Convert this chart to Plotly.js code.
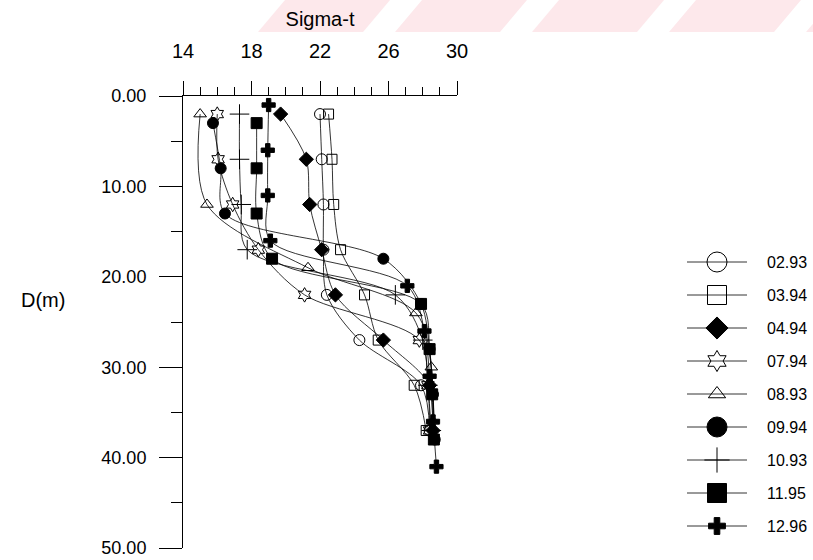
<!DOCTYPE html>
<html>
<head>
<meta charset="utf-8">
<script src="https://cdn.plot.ly/plotly-3.0.1.min.js"></script>
<style>html,body{margin:0;padding:0;background:#fff;}#chart{width:813px;height:560px;}</style>
</head>
<body>
<div id="chart"></div>
<script>
// ---- data ----
const seriesNames = ['02.93','03.94','04.94','07.94','08.93','09.94','10.93','11.95','12.96'];

const depth_0293 = [2, 7, 12, 17, 22, 27, 32, 37];
const sigma_0293 = [22.0, 22.1, 22.2, 22.2, 22.4, 24.3, 27.9, 28.4];

const depth_0394 = [2, 7, 12, 17, 22, 27, 32, 37];
const sigma_0394 = [22.5, 22.7, 22.8, 23.2, 24.6, 25.4, 27.5, 28.2];

const depth_0494 = [2, 7, 12, 17, 22, 27, 32, 37];
const sigma_0494 = [19.7, 21.2, 21.4, 22.1, 22.9, 25.7, 28.4, 28.6];

const depth_0794 = [2, 7, 12, 17, 22, 27, 32, 37];
const sigma_0794 = [16.0, 16.05, 16.9, 18.4, 21.1, 27.8, 28.3, 28.4];

const depth_0893 = [2, 12, 19, 24, 30, 36];
const sigma_0893 = [15.0, 15.4, 21.3, 27.6, 28.5, 28.6];

const depth_0994 = [3, 8, 13, 18, 23, 28, 33, 38];
const sigma_0994 = [15.75, 16.2, 16.45, 25.7, 27.9, 28.4, 28.6, 28.7];

const depth_1093 = [2, 7, 12, 17, 22, 27, 32, 37];
const sigma_1093 = [17.3, 17.3, 17.4, 17.75, 26.4, 28.0, 28.3, 28.5];

const depth_1195 = [3, 8, 13, 18, 23, 28, 33, 38];
const sigma_1195 = [18.3, 18.3, 18.3, 19.2, 27.9, 28.4, 28.55, 28.65];

const depth_1296 = [1, 6, 11, 16, 21, 26, 31, 36, 41];
const sigma_1296 = [19.0, 18.95, 18.95, 19.1, 27.1, 28.1, 28.4, 28.6, 28.8];

const xTickVals = [14, 18, 22, 26, 30];
const yTickVals = [0, 10, 20, 30, 40, 50];

// ---- styling ----
const depths = [depth_0293, depth_0394, depth_0494, depth_0794, depth_0893, depth_0994, depth_1093, depth_1195, depth_1296];
const sigmas = [sigma_0293, sigma_0394, sigma_0494, sigma_0794, sigma_0893, sigma_0994, sigma_1093, sigma_1195, sigma_1296];
const symbols = ['circle-open','square-open','diamond','hexagram-open','triangle-up-open','circle','cross-thin-open','square','cross'];
const plotSizes = [11, 10, 11, 11, 11, 11, 14, 11, 11];
const legSizes  = [20, 19, 17, 16, 15, 20, 18, 19, 14];

const FONT = 'Liberation Sans, Arial, sans-serif';
const traces = [];
for (let i = 0; i < seriesNames.length; i++) {
  traces.push({
    type: 'scatter', mode: 'lines+markers', name: seriesNames[i],
    x: sigmas[i], y: depths[i], xaxis: 'x', yaxis: 'y',
    line: {color: '#000', width: 0.8, shape: 'spline', smoothing: 0.9},
    marker: {symbol: symbols[i], size: plotSizes[i], color: '#000', line: {color: '#000', width: 1}},
    showlegend: false, cliponaxis: false
  });
}
// legend samples drawn on a hidden helper axis
const legendAnnotations = [];
for (let i = 0; i < seriesNames.length; i++) {
  traces.push({
    type: 'scatter', mode: 'lines+markers', xaxis: 'x2', yaxis: 'y2',
    x: [0, 30, 60], y: [-i, -i, -i],
    line: {color: '#000', width: 0.8},
    marker: {symbol: symbols[i], size: legSizes[i], color: '#000', opacity: [0, 1, 0], line: {color: '#000', width: 1}},
    showlegend: false, hoverinfo: 'skip', cliponaxis: false
  });
  legendAnnotations.push({
    xref: 'x2', yref: 'y2', x: 78, y: -i, text: seriesNames[i], showarrow: false,
    xanchor: 'left', yanchor: 'middle', font: {family: FONT, size: 16, color: '#000'}
  });
}

// pixel -> paper helpers (paper spans x 183..813, y 96..548)
const px = x => (x - 183) / 630;
const py = y => (548 - y) / 452;
const shapes = [];
for (let k = 0; k < 5; k++) {
  const b0 = 258 + 137 * k, b1 = b0 + 105, t0 = b0 + 27, t1 = b1 + 27;
  shapes.push({
    type: 'path', xref: 'paper', yref: 'paper', layer: 'below',
    path: `M${px(b0)},${py(32)} L${px(b1)},${py(32)} L${px(t1)},${py(0)} L${px(t0)},${py(0)} Z`,
    fillcolor: '#fde8eb', line: {width: 0}
  });
}

const layout = {
  width: 813, height: 560,
  margin: {l: 183, r: 0, t: 96, b: 12},
  paper_bgcolor: '#fff', plot_bgcolor: 'rgba(0,0,0,0)',
  font: {family: FONT, color: '#000'},
  showlegend: false,
  xaxis: {
    domain: [0, 274 / 630], range: [14, 30], side: 'top', anchor: 'y',
    tickvals: xTickVals, ticks: 'outside', ticklen: 14, tickwidth: 1, tickcolor: '#000',
    minor: {dtick: 1, tick0: 14, ticks: 'outside', ticklen: 8, tickwidth: 1, tickcolor: '#000'},
    showline: true, linecolor: '#000', linewidth: 1, showgrid: false, zeroline: false,
    tickfont: {family: FONT, size: 20}, ticklabelstandoff: 15,
    title: {text: 'Sigma-t', font: {family: FONT, size: 20}, standoff: 8}
  },
  yaxis: {
    domain: [0, 1], range: [50, 0], anchor: 'x',
    tickvals: yTickVals, tickformat: '.2f', ticks: 'outside', ticklen: 23, tickwidth: 1, tickcolor: '#000',
    minor: {dtick: 5, tick0: 0, ticks: 'outside', ticklen: 11, tickwidth: 1, tickcolor: '#000'},
    showline: true, linecolor: '#000', linewidth: 1, showgrid: false, zeroline: false,
    tickfont: {family: FONT, size: 18}, ticklabelstandoff: 9
  },
  xaxis2: {domain: [504 / 630, 1], range: [0, 126], anchor: 'y2', visible: false, fixedrange: true},
  yaxis2: {domain: [0, 1], range: [-286 / 33, -286 / 33 + 452 / 33], anchor: 'x2', visible: false, fixedrange: true},
  shapes: shapes,
  annotations: [
    {xref: 'paper', yref: 'paper', x: px(43), y: py(300), text: 'D(m)', showarrow: false,
     xanchor: 'center', yanchor: 'middle', font: {family: FONT, size: 20, color: '#000'}}
  ].concat(legendAnnotations)
};

Plotly.newPlot('chart', traces, layout, {staticPlot: true, displayModeBar: false});
</script>
</body>
</html>
